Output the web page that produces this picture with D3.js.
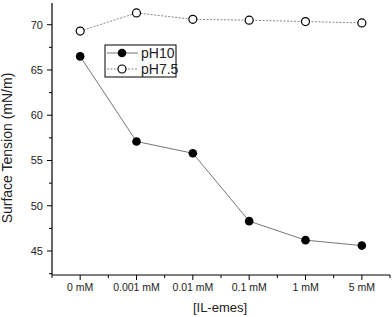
<!DOCTYPE html>
<meta charset="utf-8">
<script src="https://d3js.org/d3.v7.min.js"></script>
<style>
  body { margin: 0; background: #fff; }
  text { font-family: Arial, "Liberation Sans", sans-serif; }
</style>
<div id="chart"></div>
<script>
  // data
  var categories = ["0 mM", "0.001 mM", "0.01 mM", "0.1 mM", "1 mM", "5 mM"];
  var ph10 = [66.5, 57.1, 55.8, 48.3, 46.2, 45.6];
  var ph75 = [69.3, 71.3, 70.6, 70.5, 70.35, 70.2];
  var yTicks = [45, 50, 55, 60, 65, 70];

  var width = 392, height = 317;
  var margin = {top: 3, right: 2, bottom: 42, left: 52};

  var svg = d3.select("#chart").append("svg")
      .attr("width", width)
      .attr("height", height);

  var x = d3.scaleLinear()
      .domain([-0.5, categories.length - 0.5])
      .range([margin.left, width - margin.right]);

  var y = d3.scaleLinear()
      .domain([42.35, 72.4])
      .range([height - margin.bottom, margin.top]);

  // x axis
  var xAxis = svg.append("g")
      .attr("transform", "translate(0," + (height - margin.bottom) + ")");
  xAxis.append("line")
      .attr("x1", x.range()[0]).attr("x2", x.range()[1])
      .attr("stroke", "#000").attr("stroke-width", 1.2);
  xAxis.selectAll(".major").data(categories).join("line")
      .attr("x1", (d, i) => x(i)).attr("x2", (d, i) => x(i))
      .attr("y1", 0).attr("y2", 5)
      .attr("stroke", "#000");
  xAxis.selectAll(".minor").data(d3.range(-0.5, categories.length, 1)).join("line")
      .attr("x1", d => x(d)).attr("x2", d => x(d))
      .attr("y1", 0).attr("y2", 3)
      .attr("stroke", "#000");
  xAxis.selectAll("text").data(categories).join("text")
      .attr("x", (d, i) => x(i))
      .attr("y", 16)
      .attr("text-anchor", "middle")
      .attr("font-size", 10.5)
      .attr("fill", "#222")
      .text(d => d);

  // y axis
  var yAxis = svg.append("g")
      .attr("transform", "translate(" + margin.left + ",0)");
  yAxis.append("line")
      .attr("y1", y.range()[0]).attr("y2", y.range()[1])
      .attr("stroke", "#000").attr("stroke-width", 1.2);
  yAxis.selectAll(".major").data(yTicks).join("line")
      .attr("y1", d => y(d)).attr("y2", d => y(d))
      .attr("x1", 0).attr("x2", -5)
      .attr("stroke", "#000");
  yAxis.selectAll(".minor").data(yTicks.map(d => d - 2.5).concat([72.5].filter(v => v <= y.domain()[1]))).join("line")
      .attr("y1", d => y(d)).attr("y2", d => y(d))
      .attr("x1", 0).attr("x2", -3)
      .attr("stroke", "#000");
  yAxis.selectAll("text").data(yTicks).join("text")
      .attr("x", -9)
      .attr("y", d => y(d))
      .attr("dy", "0.35em")
      .attr("text-anchor", "end")
      .attr("font-size", 11)
      .attr("fill", "#222")
      .text(d => d);

  // axis titles
  svg.append("text")
      .attr("transform", "translate(12," + 148 + ") rotate(-90)")
      .attr("text-anchor", "middle")
      .attr("font-size", 14)
      .attr("fill", "#222")
      .text("Surface Tension (mN/m)");
  svg.append("text")
      .attr("x", 220)
      .attr("y", 312)
      .attr("text-anchor", "middle")
      .attr("font-size", 13)
      .attr("fill", "#222")
      .text("[IL-emes]");

  var line = d3.line()
      .x((d, i) => x(i))
      .y(d => y(d));

  // pH7.5 series
  svg.append("path")
      .datum(ph75)
      .attr("fill", "none")
      .attr("stroke", "#888")
      .attr("stroke-width", 1)
      .attr("stroke-dasharray", "2,1.5")
      .attr("d", line);
  svg.selectAll(".p75").data(ph75).join("circle")
      .attr("cx", (d, i) => x(i))
      .attr("cy", d => y(d))
      .attr("r", 4)
      .attr("fill", "#fff")
      .attr("stroke", "#000")
      .attr("stroke-width", 1.2);

  // pH10 series
  svg.append("path")
      .datum(ph10)
      .attr("fill", "none")
      .attr("stroke", "#777")
      .attr("stroke-width", 1)
      .attr("d", line);
  svg.selectAll(".p10").data(ph10).join("circle")
      .attr("cx", (d, i) => x(i))
      .attr("cy", d => y(d))
      .attr("r", 4.3)
      .attr("fill", "#000");

  // legend
  var legend = svg.append("g").attr("transform", "translate(105,45)");
  legend.append("rect")
      .attr("width", 71).attr("height", 32)
      .attr("fill", "#fff")
      .attr("stroke", "#000").attr("stroke-width", 1);
  var items = [
    {name: "pH10", dash: null, fill: "#000", stroke: "#777"},
    {name: "pH7.5", dash: "2,1.5", fill: "#fff", stroke: "#888"}
  ];
  items.forEach(function(it, i) {
    var cy = 8 + i * 16;
    legend.append("line")
        .attr("x1", 2).attr("x2", 33)
        .attr("y1", cy).attr("y2", cy)
        .attr("stroke", it.stroke)
        .attr("stroke-dasharray", it.dash);
    legend.append("circle")
        .attr("cx", 17).attr("cy", cy)
        .attr("r", i === 0 ? 4.3 : 4)
        .attr("fill", it.fill)
        .attr("stroke", "#000")
        .attr("stroke-width", i === 0 ? 0 : 1.2);
    legend.append("text")
        .attr("x", 36).attr("y", cy)
        .attr("dy", "0.35em")
        .attr("font-size", 14)
        .attr("fill", "#222")
        .text(it.name);
  });
</script>
